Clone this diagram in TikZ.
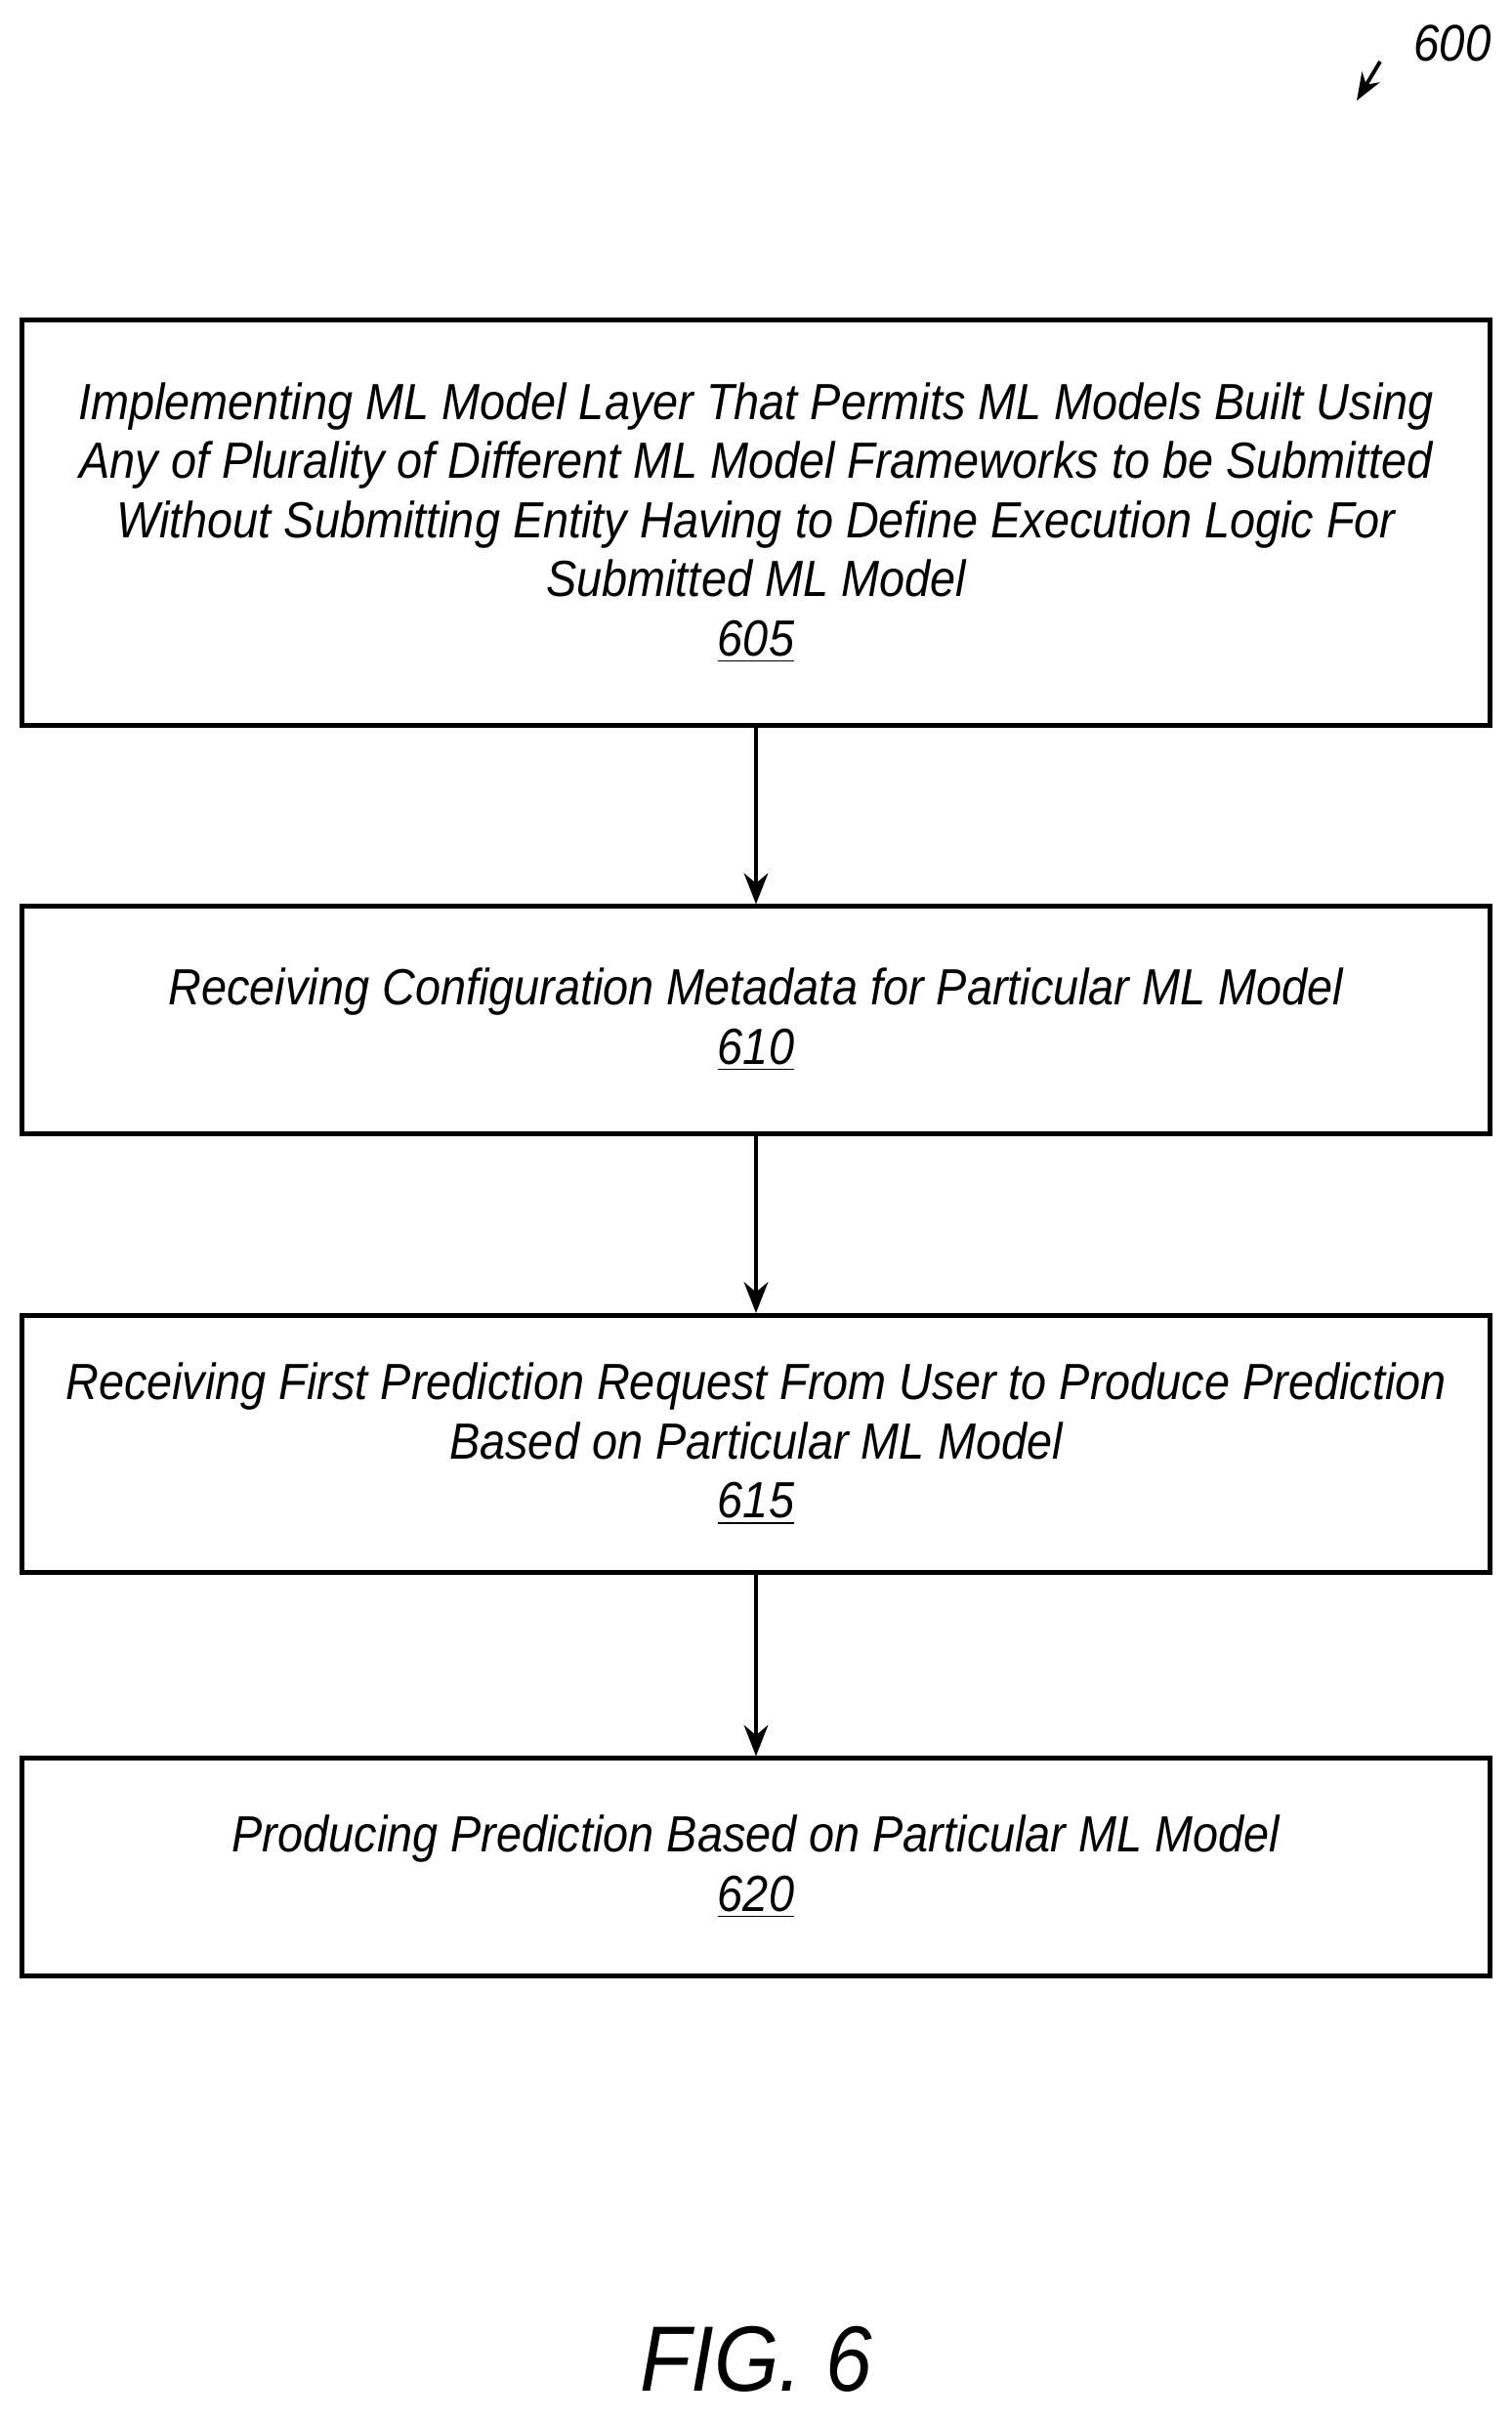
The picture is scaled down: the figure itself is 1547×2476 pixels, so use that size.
\documentclass[tikz,border=0pt]{standalone}
\usepackage{fontspec}
\setmainfont{Liberation Sans}[FakeStretch=0.9]
\usetikzlibrary{arrows.meta}
\begin{document}
\begin{tikzpicture}[x=0.01cm,y=-0.01cm,
  box/.style={draw,line width=1.4pt,minimum width=15.03cm,inner sep=0pt,align=center,font=\itshape\fontsize{14.8}{17.2}\selectfont},
  arr/.style={line width=1.1pt,-{Stealth[length=9pt,width=7pt]}}]
\useasboundingbox (0,0) rectangle (1547,2476);
\node[box,minimum height=4.14cm] (b1) at (774,535) {Implementing ML Model Layer That Permits ML Models Built Using\\Any of Plurality of Different ML Model Frameworks to be Submitted\\Without Submitting Entity Having to Define Execution Logic For\\Submitted ML Model\\\underline{605}};
\node[box,minimum height=2.32cm] (b2) at (774,1044) {Receiving Configuration Metadata for Particular ML Model\\\underline{610}};
\node[box,minimum height=2.63cm] (b3) at (774,1478) {Receiving First Prediction Request From User to Produce Prediction\\Based on Particular ML Model\\\underline{615}};
\node[box,minimum height=2.22cm] (b4) at (774,1911) {Producing Prediction Based on Particular ML Model\\\underline{620}};
\draw[arr] (b1) -- (b2);
\draw[arr] (b2) -- (b3);
\draw[arr] (b3) -- (b4);
\node[font=\itshape\fontsize{27}{32}\selectfont] (fig) at (774,2415) {FIG. 6};
\node[font=\itshape\fontsize{15}{18}\selectfont] (n600) at (1487,44) {600};
\coordinate (a0) at (1413,63);
\coordinate (a1) at (1389,103);
\draw[line width=1.1pt,-{Stealth[length=8pt,width=6pt]}] (a0) -- (a1);
\end{tikzpicture}
\end{document}
